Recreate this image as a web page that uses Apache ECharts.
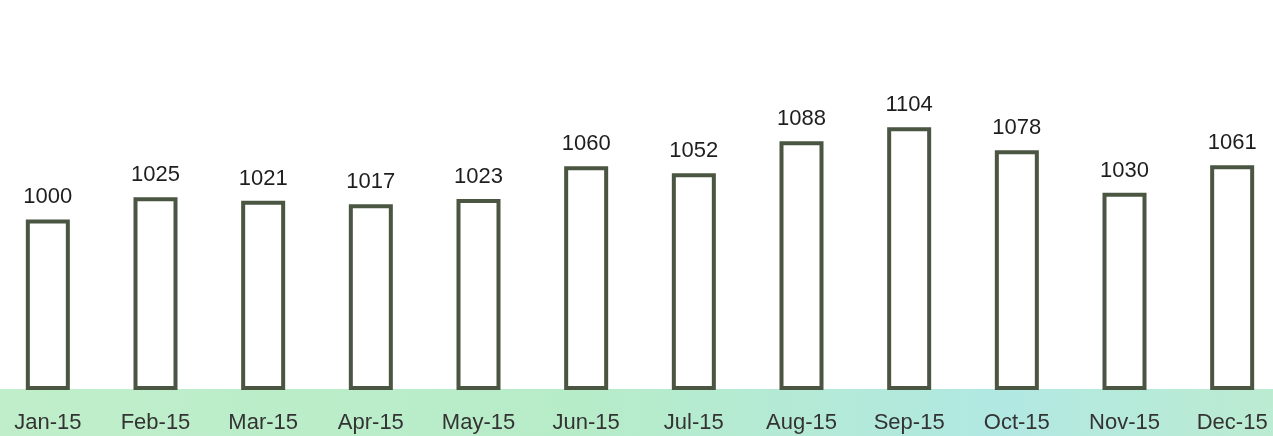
<!DOCTYPE html>
<html>
<head>
<meta charset="utf-8">
<script src="https://cdn.jsdelivr.net/npm/echarts@6/dist/echarts.min.js"></script>
<style>
  html, body { margin: 0; padding: 0; background: #fff; overflow: hidden; }
  #wrap { width: 1273px; height: 436px; position: relative; overflow: hidden; }
  /* plot runs a little past both edges of the picture */
  #main { width: 1292px; height: 436px; position: absolute; left: -6px; top: 0; }
</style>
</head>
<body>
<div id="wrap"><div id="main"></div></div>
<script>
// monthly values
let months = ['Jan-15', 'Feb-15', 'Mar-15', 'Apr-15', 'May-15', 'Jun-15',
              'Jul-15', 'Aug-15', 'Sep-15', 'Oct-15', 'Nov-15', 'Dec-15']
let values = [1000, 1025, 1021, 1017, 1023, 1060, 1052, 1088, 1104, 1078, 1030, 1061]

let chart = echarts.init(document.getElementById('main'))

let option = {
    backgroundColor: '#fff',
    animation: false,
    textStyle: { fontFamily: 'Liberation Sans, Arial, sans-serif' },
    graphic: [
        {
            // green band behind the month labels
            type: 'rect',
            z: -10,
            silent: true,
            shape: { x: 0, y: 389, width: 1292, height: 47 },
            style: {
                fill: new echarts.graphic.LinearGradient(0, 0, 1, 0, [
                    { offset: 0, color: '#c0eecb' },
                    { offset: 0.45, color: '#b7ecc8' },
                    { offset: 0.78, color: '#b1e8e2' },
                    { offset: 1, color: '#bcecd0' }
                ])
            }
        }
    ],
    grid: {
        left: 0,
        right: 0,
        top: 42,
        bottom: 48
    },
    xAxis: {
        type: 'category',
        data: months,
        axisLine: { show: false },
        axisTick: { show: false },
        axisLabel: {
            color: '#333',
            fontSize: 22,
            margin: 24,
            interval: 0
        }
    },
    yAxis: {
        type: 'value',
        min: 810,
        max: 1200,
        show: false,
        splitLine: { show: false }
    },
    series: [
        {
            type: 'bar',
            data: values,
            barWidth: 44,
            silent: true,
            itemStyle: {
                color: '#ffffff',
                borderColor: '#4a5542',
                borderWidth: 4
            },
            label: {
                show: true,
                position: 'top',
                distance: 11,
                color: '#1e1e1e',
                fontSize: 22
            }
        }
    ]
}
chart.setOption(option)
</script>
</body>
</html>
